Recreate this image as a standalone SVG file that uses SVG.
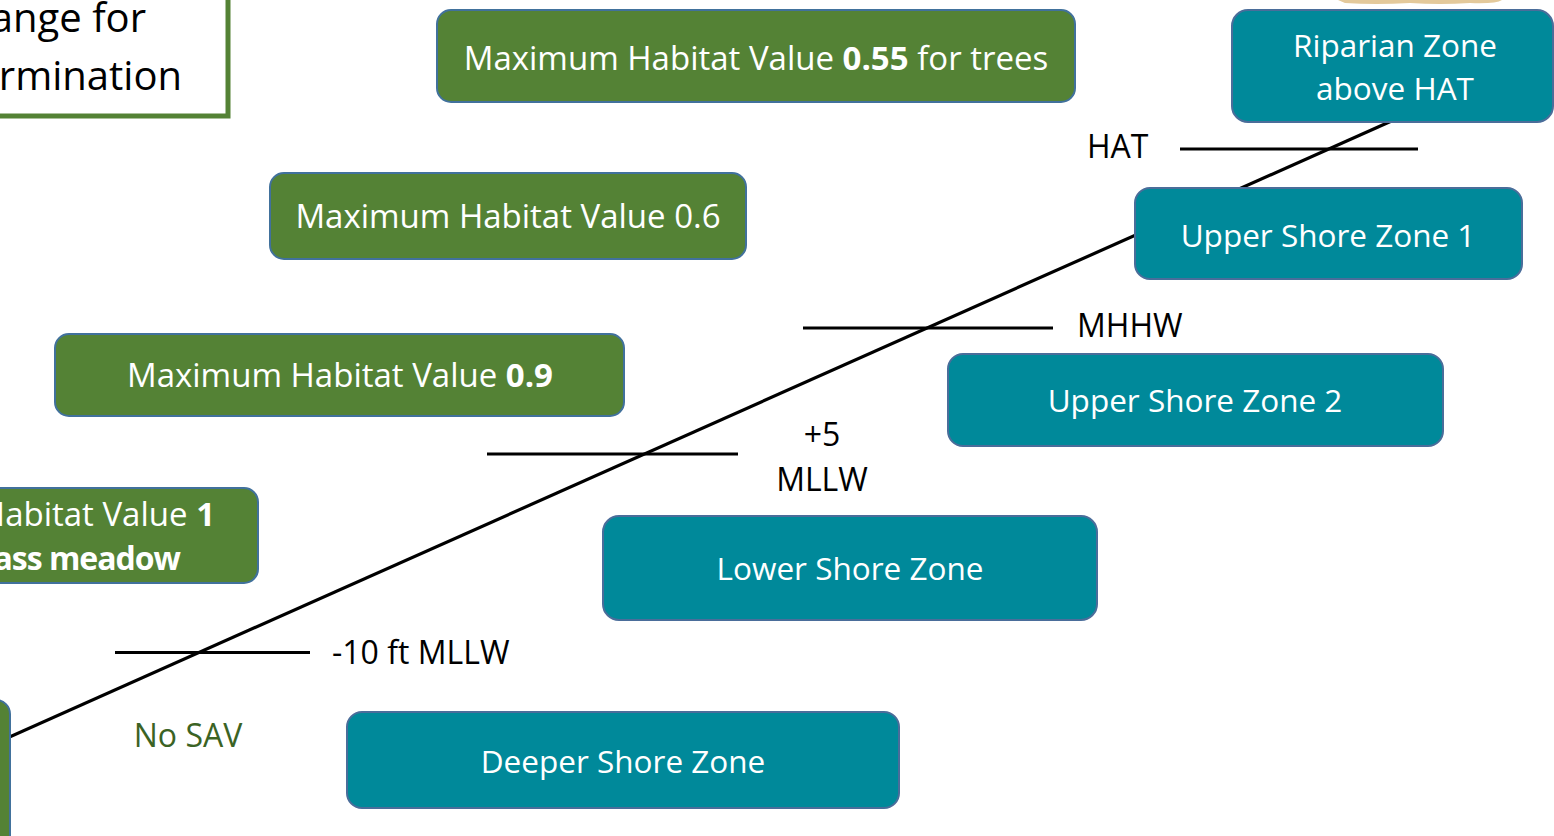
<svg xmlns="http://www.w3.org/2000/svg" width="1554" height="836" viewBox="0 0 1554 836">
  <style>
    .green { fill: #548235; stroke: #41719C; stroke-width: 2; }
    .teal { fill: #00899A; stroke: #4A6D9A; stroke-width: 2; }
    .lbl { font-family: "Open Sans", "Noto Sans", sans-serif; font-size: 33px; fill: #FFFFFF; text-anchor: middle; }
    .zone { font-size: 31.5px; }
    .lvl { font-family: "Open Sans", "Noto Sans", sans-serif; font-size: 32px; fill: #000000; }
    .b { font-weight: bold; }
    .rule { stroke: #000000; stroke-width: 3.2; fill: none; }
  </style>

  <rect x="0" y="0" width="1554" height="836" fill="#FFFFFF"/>

  <!-- decorative fragments along the top edge -->
  <g id="top-edge">
    <path d="M1338,0 L1502,0 Q1496,4 1470,3 Q1440,5 1410,3 Q1375,5 1345,3 Z" fill="#E3C99B"/>
    <line x1="1258" y1="10" x2="1277" y2="10" stroke="#8A9BB5" stroke-width="1.5"/>
  </g>

  <!-- shoreline profile and tidal datum marks -->
  <g id="connectors">
    <line class="rule" x1="-4" y1="743" x2="1396" y2="119"/>
    <line class="rule" x1="1180" y1="149" x2="1418" y2="149"/>
    <line class="rule" x1="803" y1="328" x2="1053" y2="328"/>
    <line class="rule" x1="487" y1="454" x2="738" y2="454"/>
    <line class="rule" x1="115" y1="652.5" x2="310" y2="652.5"/>
  </g>

  <!-- datum labels -->
  <g id="datum-labels">
    <text class="lvl" x="1087" y="158">HAT</text>
    <text class="lvl" x="1077" y="337">MHHW</text>
    <text class="lvl" x="822" y="446" text-anchor="middle">+5</text>
    <text class="lvl" x="822" y="491" text-anchor="middle">MLLW</text>
    <text class="lvl" x="332" y="664">-10 ft MLLW</text>
    <text class="lvl" x="188" y="747" text-anchor="middle" style="fill:#3B6324">No SAV</text>
  </g>

  <!-- title box -->
  <g id="title-box">
    <rect x="-300" y="-40" width="528" height="156" fill="#FFFFFF" stroke="#548235" stroke-width="5"/>
    <text x="146" y="32" text-anchor="end" font-family="Open Sans, Noto Sans, sans-serif" font-size="40" fill="#000000">Elevation Range for</text>
    <text x="182" y="90" text-anchor="end" font-family="Open Sans, Noto Sans, sans-serif" font-size="40" fill="#000000">Determination</text>
  </g>

  <!-- habitat value boxes -->
  <g id="hv-055">
    <rect class="green" x="437" y="10" width="638" height="92" rx="14"/>
    <text class="lbl" x="756" y="70">Maximum Habitat Value <tspan class="b">0.55</tspan> for trees</text>
  </g>
  <g id="hv-06">
    <rect class="green" x="270" y="173" width="476" height="86" rx="14"/>
    <text class="lbl" x="508" y="228">Maximum Habitat Value 0.6</text>
  </g>
  <g id="hv-09">
    <rect class="green" x="55" y="334" width="569" height="82" rx="14"/>
    <text class="lbl" x="340" y="387">Maximum Habitat Value <tspan class="b">0.9</tspan></text>
  </g>
  <g id="hv-1">
    <rect class="green" x="-300" y="488" width="558" height="95" rx="14"/>
    <text class="lbl" x="215" y="526" style="text-anchor:end">Maximum Habitat Value <tspan class="b">1</tspan></text>
    <text class="lbl b" x="180" y="570" style="text-anchor:end;font-size:32px;letter-spacing:-1px">for eelgrass meadow</text>
  </g>
  <g id="hv-deep">
    <rect class="green" x="-300" y="700" width="310" height="200" rx="14"/>
  </g>

  <!-- shore zone boxes -->
  <g id="riparian-zone">
    <rect class="teal" x="1232" y="10" width="321" height="112" rx="16"/>
    <text class="lbl zone" x="1395" y="57">Riparian Zone</text>
    <text class="lbl zone" x="1395" y="100">above HAT</text>
  </g>
  <g id="upper-shore-1">
    <rect class="teal" x="1135" y="188" width="387" height="91" rx="15"/>
    <text class="lbl zone" x="1328" y="247">Upper Shore Zone 1</text>
  </g>
  <g id="upper-shore-2">
    <rect class="teal" x="948" y="354" width="495" height="92" rx="15"/>
    <text class="lbl zone" x="1195" y="412">Upper Shore Zone 2</text>
  </g>
  <g id="lower-shore">
    <rect class="teal" x="603" y="516" width="494" height="104" rx="16"/>
    <text class="lbl zone" x="850" y="580">Lower Shore Zone</text>
  </g>
  <g id="deeper-shore">
    <rect class="teal" x="347" y="712" width="552" height="96" rx="15"/>
    <text class="lbl zone" x="623" y="773">Deeper Shore Zone</text>
  </g>
</svg>
